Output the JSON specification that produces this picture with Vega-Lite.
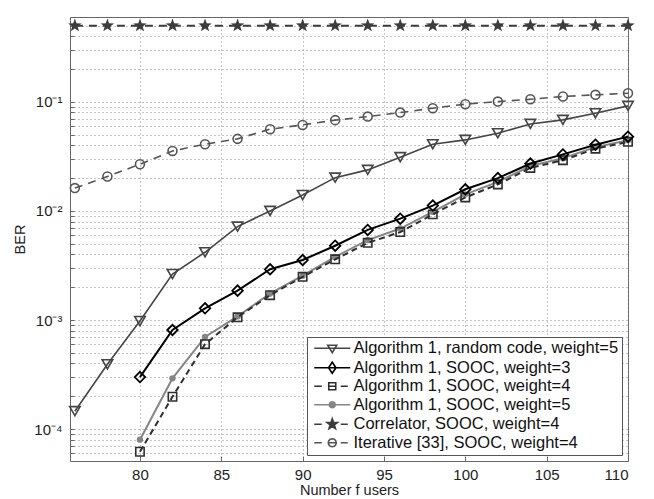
{
  "$schema": "https://vega.github.io/schema/vega-lite/v6.json",
  "width": 558,
  "height": 444,
  "autosize": {"type": "none"},
  "padding": {"left": 70, "top": 17, "right": 26, "bottom": 38},
  "background": "white",
  "config": {"view": {"stroke": "#666", "strokeWidth": 1}, "font": "Liberation Sans"},
  "data": {"values": [
    {"s": "Algorithm 1, random code, weight=5", "n": 76, "ber": 0.000146},
    {"s": "Algorithm 1, random code, weight=5", "n": 78, "ber": 0.000393},
    {"s": "Algorithm 1, random code, weight=5", "n": 80, "ber": 0.00098},
    {"s": "Algorithm 1, random code, weight=5", "n": 82, "ber": 0.00264},
    {"s": "Algorithm 1, random code, weight=5", "n": 84, "ber": 0.00418},
    {"s": "Algorithm 1, random code, weight=5", "n": 86, "ber": 0.00718},
    {"s": "Algorithm 1, random code, weight=5", "n": 88, "ber": 0.0100},
    {"s": "Algorithm 1, random code, weight=5", "n": 90, "ber": 0.0140},
    {"s": "Algorithm 1, random code, weight=5", "n": 92, "ber": 0.0202},
    {"s": "Algorithm 1, random code, weight=5", "n": 94, "ber": 0.0238},
    {"s": "Algorithm 1, random code, weight=5", "n": 96, "ber": 0.0311},
    {"s": "Algorithm 1, random code, weight=5", "n": 98, "ber": 0.0409},
    {"s": "Algorithm 1, random code, weight=5", "n": 100, "ber": 0.0448},
    {"s": "Algorithm 1, random code, weight=5", "n": 102, "ber": 0.0516},
    {"s": "Algorithm 1, random code, weight=5", "n": 104, "ber": 0.0628},
    {"s": "Algorithm 1, random code, weight=5", "n": 106, "ber": 0.0684},
    {"s": "Algorithm 1, random code, weight=5", "n": 108, "ber": 0.0787},
    {"s": "Algorithm 1, random code, weight=5", "n": 110, "ber": 0.0919},
    {"s": "Algorithm 1, SOOC, weight=3", "n": 80, "ber": 0.000300},
    {"s": "Algorithm 1, SOOC, weight=3", "n": 82, "ber": 0.00081},
    {"s": "Algorithm 1, SOOC, weight=3", "n": 84, "ber": 0.00128},
    {"s": "Algorithm 1, SOOC, weight=3", "n": 86, "ber": 0.00186},
    {"s": "Algorithm 1, SOOC, weight=3", "n": 88, "ber": 0.00292},
    {"s": "Algorithm 1, SOOC, weight=3", "n": 90, "ber": 0.00355},
    {"s": "Algorithm 1, SOOC, weight=3", "n": 92, "ber": 0.0048},
    {"s": "Algorithm 1, SOOC, weight=3", "n": 94, "ber": 0.0067},
    {"s": "Algorithm 1, SOOC, weight=3", "n": 96, "ber": 0.0085},
    {"s": "Algorithm 1, SOOC, weight=3", "n": 98, "ber": 0.0112},
    {"s": "Algorithm 1, SOOC, weight=3", "n": 100, "ber": 0.0158},
    {"s": "Algorithm 1, SOOC, weight=3", "n": 102, "ber": 0.0200},
    {"s": "Algorithm 1, SOOC, weight=3", "n": 104, "ber": 0.0272},
    {"s": "Algorithm 1, SOOC, weight=3", "n": 106, "ber": 0.0330},
    {"s": "Algorithm 1, SOOC, weight=3", "n": 108, "ber": 0.0405},
    {"s": "Algorithm 1, SOOC, weight=3", "n": 110, "ber": 0.0480},
    {"s": "Algorithm 1, SOOC, weight=4", "n": 80, "ber": 0.000062},
    {"s": "Algorithm 1, SOOC, weight=4", "n": 82, "ber": 0.000198},
    {"s": "Algorithm 1, SOOC, weight=4", "n": 84, "ber": 0.000600},
    {"s": "Algorithm 1, SOOC, weight=4", "n": 86, "ber": 0.00106},
    {"s": "Algorithm 1, SOOC, weight=4", "n": 88, "ber": 0.00169},
    {"s": "Algorithm 1, SOOC, weight=4", "n": 90, "ber": 0.00249},
    {"s": "Algorithm 1, SOOC, weight=4", "n": 92, "ber": 0.0036},
    {"s": "Algorithm 1, SOOC, weight=4", "n": 94, "ber": 0.0051},
    {"s": "Algorithm 1, SOOC, weight=4", "n": 96, "ber": 0.0064},
    {"s": "Algorithm 1, SOOC, weight=4", "n": 98, "ber": 0.0093},
    {"s": "Algorithm 1, SOOC, weight=4", "n": 100, "ber": 0.0133},
    {"s": "Algorithm 1, SOOC, weight=4", "n": 102, "ber": 0.0175},
    {"s": "Algorithm 1, SOOC, weight=4", "n": 104, "ber": 0.0248},
    {"s": "Algorithm 1, SOOC, weight=4", "n": 106, "ber": 0.0292},
    {"s": "Algorithm 1, SOOC, weight=4", "n": 108, "ber": 0.0372},
    {"s": "Algorithm 1, SOOC, weight=4", "n": 110, "ber": 0.0430},
    {"s": "Algorithm 1, SOOC, weight=5", "n": 80, "ber": 0.000080},
    {"s": "Algorithm 1, SOOC, weight=5", "n": 82, "ber": 0.000292},
    {"s": "Algorithm 1, SOOC, weight=5", "n": 84, "ber": 0.000700},
    {"s": "Algorithm 1, SOOC, weight=5", "n": 86, "ber": 0.00108},
    {"s": "Algorithm 1, SOOC, weight=5", "n": 88, "ber": 0.00175},
    {"s": "Algorithm 1, SOOC, weight=5", "n": 90, "ber": 0.00255},
    {"s": "Algorithm 1, SOOC, weight=5", "n": 92, "ber": 0.0038},
    {"s": "Algorithm 1, SOOC, weight=5", "n": 94, "ber": 0.0054},
    {"s": "Algorithm 1, SOOC, weight=5", "n": 96, "ber": 0.0069},
    {"s": "Algorithm 1, SOOC, weight=5", "n": 98, "ber": 0.0098},
    {"s": "Algorithm 1, SOOC, weight=5", "n": 100, "ber": 0.0142},
    {"s": "Algorithm 1, SOOC, weight=5", "n": 102, "ber": 0.0185},
    {"s": "Algorithm 1, SOOC, weight=5", "n": 104, "ber": 0.0258},
    {"s": "Algorithm 1, SOOC, weight=5", "n": 106, "ber": 0.0305},
    {"s": "Algorithm 1, SOOC, weight=5", "n": 108, "ber": 0.0385},
    {"s": "Algorithm 1, SOOC, weight=5", "n": 110, "ber": 0.0445},
    {"s": "Correlator, SOOC, weight=4", "n": 76, "ber": 0.5},
    {"s": "Correlator, SOOC, weight=4", "n": 78, "ber": 0.5},
    {"s": "Correlator, SOOC, weight=4", "n": 80, "ber": 0.5},
    {"s": "Correlator, SOOC, weight=4", "n": 82, "ber": 0.5},
    {"s": "Correlator, SOOC, weight=4", "n": 84, "ber": 0.5},
    {"s": "Correlator, SOOC, weight=4", "n": 86, "ber": 0.5},
    {"s": "Correlator, SOOC, weight=4", "n": 88, "ber": 0.5},
    {"s": "Correlator, SOOC, weight=4", "n": 90, "ber": 0.5},
    {"s": "Correlator, SOOC, weight=4", "n": 92, "ber": 0.5},
    {"s": "Correlator, SOOC, weight=4", "n": 94, "ber": 0.5},
    {"s": "Correlator, SOOC, weight=4", "n": 96, "ber": 0.5},
    {"s": "Correlator, SOOC, weight=4", "n": 98, "ber": 0.5},
    {"s": "Correlator, SOOC, weight=4", "n": 100, "ber": 0.5},
    {"s": "Correlator, SOOC, weight=4", "n": 102, "ber": 0.5},
    {"s": "Correlator, SOOC, weight=4", "n": 104, "ber": 0.5},
    {"s": "Correlator, SOOC, weight=4", "n": 106, "ber": 0.5},
    {"s": "Correlator, SOOC, weight=4", "n": 108, "ber": 0.5},
    {"s": "Correlator, SOOC, weight=4", "n": 110, "ber": 0.5},
    {"s": "Iterative [33], SOOC, weight=4", "n": 76, "ber": 0.0162},
    {"s": "Iterative [33], SOOC, weight=4", "n": 78, "ber": 0.0207},
    {"s": "Iterative [33], SOOC, weight=4", "n": 80, "ber": 0.0268},
    {"s": "Iterative [33], SOOC, weight=4", "n": 82, "ber": 0.0355},
    {"s": "Iterative [33], SOOC, weight=4", "n": 84, "ber": 0.0409},
    {"s": "Iterative [33], SOOC, weight=4", "n": 86, "ber": 0.0458},
    {"s": "Iterative [33], SOOC, weight=4", "n": 88, "ber": 0.0562},
    {"s": "Iterative [33], SOOC, weight=4", "n": 90, "ber": 0.0615},
    {"s": "Iterative [33], SOOC, weight=4", "n": 92, "ber": 0.0680},
    {"s": "Iterative [33], SOOC, weight=4", "n": 94, "ber": 0.0733},
    {"s": "Iterative [33], SOOC, weight=4", "n": 96, "ber": 0.0798},
    {"s": "Iterative [33], SOOC, weight=4", "n": 98, "ber": 0.0875},
    {"s": "Iterative [33], SOOC, weight=4", "n": 100, "ber": 0.0953},
    {"s": "Iterative [33], SOOC, weight=4", "n": 102, "ber": 0.1006},
    {"s": "Iterative [33], SOOC, weight=4", "n": 104, "ber": 0.1057},
    {"s": "Iterative [33], SOOC, weight=4", "n": 106, "ber": 0.112},
    {"s": "Iterative [33], SOOC, weight=4", "n": 108, "ber": 0.116},
    {"s": "Iterative [33], SOOC, weight=4", "n": 110, "ber": 0.120}
  ]},
  "encoding": {
    "x": {"field": "n", "type": "quantitative", "scale": {"domain": [75.7, 110], "nice": false, "zero": false},
      "axis": {"values": [80, 85, 90, 95, 100, 105, 110], "grid": true, "gridDash": [1, 3], "gridColor": "#8a8a8a", "gridWidth": 1,
        "ticks": true, "tickSize": -5, "tickColor": "#666", "domain": false,
        "labelFontSize": 15, "labelFont": "Liberation Sans", "labelColor": "#222", "labelPadding": 11,
        "title": "Number f users", "titleFontSize": 14.5, "titleFont": "Liberation Sans", "titleFontWeight": "normal", "titleColor": "#222", "titlePadding": 1}},
    "y": {"field": "ber", "type": "quantitative", "scale": {"type": "log", "domain": [0.000051, 0.6], "nice": false},
      "axis": {"values": [0.00006, 0.00007, 0.00008, 0.00009, 0.0001, 0.0002, 0.0003, 0.0004, 0.0005, 0.0006, 0.0007, 0.0008, 0.0009, 0.001, 0.002, 0.003, 0.004, 0.005, 0.006, 0.007, 0.008, 0.009, 0.01, 0.02, 0.03, 0.04, 0.05, 0.06, 0.07, 0.08, 0.09, 0.1, 0.2, 0.3, 0.4, 0.5],
        "labelExpr": "abs(datum.value - 0.0001) < 0.00000001 ? '10⁻⁴' : abs(datum.value - 0.001) < 0.0000001 ? '10⁻³' : abs(datum.value - 0.01) < 0.000001 ? '10⁻²' : abs(datum.value - 0.1) < 0.00001 ? '10⁻¹' : ''",
        "grid": true, "gridDash": [1, 3], "gridColor": "#8a8a8a", "gridWidth": 1, "ticks": true, "tickSize": -4, "tickColor": "#666", "domain": false,
        "labelFontSize": 15, "labelFont": "Liberation Sans", "labelColor": "#222", "labelPadding": 12, "labelOverlap": false,
        "title": "BER", "titleFontSize": 14.5, "titleFont": "Liberation Sans", "titleFontWeight": "normal", "titleColor": "#222", "titlePadding": 6}}
  },
  "layer": [
    {
      "transform": [{"filter": "datum.s === 'Correlator, SOOC, weight=4'"}],
      "mark": {"type": "line", "stroke": "#3c3c3c", "strokeWidth": 2, "strokeDash": [8, 6]}
    },
    {
      "transform": [{"filter": "datum.s === 'Correlator, SOOC, weight=4'"}],
      "mark": {"type": "point", "shape": "M0,-1L0.235,-0.324L0.951,-0.309L0.38,0.124L0.588,0.809L0,0.4L-0.588,0.809L-0.38,0.124L-0.951,-0.309L-0.235,-0.324Z", "filled": true, "color": "#3c3c3c", "size": 200, "opacity": 1}
    },
    {
      "transform": [{"filter": "datum.s === 'Iterative [33], SOOC, weight=4'"}],
      "mark": {"type": "line", "stroke": "#555555", "strokeWidth": 1.6, "strokeDash": [8, 6]}
    },
    {
      "transform": [{"filter": "datum.s === 'Iterative [33], SOOC, weight=4'"}],
      "mark": {"type": "point", "shape": "circle", "filled": false, "color": "#555555", "strokeWidth": 1.6, "size": 80, "opacity": 1}
    },
    {
      "transform": [{"filter": "datum.s === 'Algorithm 1, random code, weight=5'"}],
      "mark": {"type": "line", "stroke": "#454545", "strokeWidth": 1.6}
    },
    {
      "transform": [{"filter": "datum.s === 'Algorithm 1, random code, weight=5'"}],
      "mark": {"type": "point", "shape": "triangle-down", "filled": false, "color": "#454545", "strokeWidth": 1.6, "size": 110, "opacity": 1}
    },
    {
      "transform": [{"filter": "datum.s === 'Algorithm 1, SOOC, weight=5'"}],
      "mark": {"type": "line", "stroke": "#858585", "strokeWidth": 2}
    },
    {
      "transform": [{"filter": "datum.s === 'Algorithm 1, SOOC, weight=5'"}],
      "mark": {"type": "point", "shape": "circle", "filled": true, "color": "#858585", "size": 40, "opacity": 1}
    },
    {
      "transform": [{"filter": "datum.s === 'Algorithm 1, SOOC, weight=4'"}],
      "mark": {"type": "line", "stroke": "#2e2e2e", "strokeWidth": 2, "strokeDash": [6, 4]}
    },
    {
      "transform": [{"filter": "datum.s === 'Algorithm 1, SOOC, weight=4'"}],
      "mark": {"type": "point", "shape": "square", "filled": false, "color": "#2e2e2e", "strokeWidth": 1.6, "size": 70, "opacity": 1}
    },
    {
      "transform": [{"filter": "datum.s === 'Algorithm 1, SOOC, weight=3'"}],
      "mark": {"type": "line", "stroke": "#000000", "strokeWidth": 2}
    },
    {
      "transform": [{"filter": "datum.s === 'Algorithm 1, SOOC, weight=3'"}],
      "mark": {"type": "point", "shape": "diamond", "filled": false, "color": "#000000", "strokeWidth": 1.8, "size": 110, "opacity": 1}
    },
    {
      "mark": {"type": "point", "opacity": 0, "strokeWidth": 1.5},
      "encoding": {
        "stroke": {"field": "s", "type": "nominal",
          "scale": {"domain": ["Algorithm 1, random code, weight=5", "Algorithm 1, SOOC, weight=3", "Algorithm 1, SOOC, weight=4", "Algorithm 1, SOOC, weight=5", "Correlator, SOOC, weight=4", "Iterative [33], SOOC, weight=4"],
            "range": ["#454545", "#000000", "#2e2e2e", "#858585", "#3c3c3c", "#555555"]},
          "legend": {"title": null, "orient": "bottom-right", "offset": 6, "fillColor": "white", "strokeColor": "#555", "padding": 3,
            "labelFontSize": 16.5, "labelFont": "Liberation Sans", "labelColor": "#111", "labelLimit": 0,
            "symbolSize": 100, "symbolStrokeWidth": 1.6, "symbolOffset": 14, "labelOffset": 13, "rowPadding": 1.5, "symbolOpacity": 1}},
        "fill": {"field": "s", "type": "nominal",
          "scale": {"domain": ["Algorithm 1, random code, weight=5", "Algorithm 1, SOOC, weight=3", "Algorithm 1, SOOC, weight=4", "Algorithm 1, SOOC, weight=5", "Correlator, SOOC, weight=4", "Iterative [33], SOOC, weight=4"],
            "range": ["rgba(255,255,255,0)", "rgba(255,255,255,0)", "rgba(255,255,255,0)", "#858585", "#3c3c3c", "rgba(255,255,255,0)"]},
          "legend": {"title": null, "orient": "bottom-right", "offset": 6, "fillColor": "white", "strokeColor": "#555", "padding": 3,
            "labelFontSize": 16.5, "labelFont": "Liberation Sans", "labelColor": "#111", "labelLimit": 0,
            "symbolSize": 100, "symbolStrokeWidth": 1.6, "symbolOffset": 14, "labelOffset": 13, "rowPadding": 1.5, "symbolOpacity": 1}},
        "shape": {"field": "s", "type": "nominal",
          "scale": {"domain": ["Algorithm 1, random code, weight=5", "Algorithm 1, SOOC, weight=3", "Algorithm 1, SOOC, weight=4", "Algorithm 1, SOOC, weight=5", "Correlator, SOOC, weight=4", "Iterative [33], SOOC, weight=4"],
            "range": [
              "M-3.6,0H3.6M-0.9,-0.6L0.9,-0.6L0,0.9Z",
              "M-3.6,0H3.6M0,-1.1L0.75,0L0,1.1L-0.75,0Z",
              "M-3.6,0H-2.1M-0.7,0H0.7M1.7,0H3.1M-0.7,-0.7H0.7V0.7H-0.7Z",
              "M-3.6,0H3.6M0.6,0L0.52,0.3L0.3,0.52L0,0.6L-0.3,0.52L-0.52,0.3L-0.6,0L-0.52,-0.3L-0.3,-0.52L0,-0.6L0.3,-0.52L0.52,-0.3Z",
              "M-3.6,0H-2.1M1.7,0H3.1M0,-1.1L0.26,-0.36L1.05,-0.34L0.43,0.14L0.65,0.89L0,0.45L-0.65,0.89L-0.43,0.14L-1.05,-0.34L-0.26,-0.36Z",
              "M-3.6,0H-2.1M-0.8,0H0.8M1.7,0H3.1M0.8,0L0.69,0.4L0.4,0.69L0,0.8L-0.4,0.69L-0.69,0.4L-0.8,0L-0.69,-0.4L-0.4,-0.69L0,-0.8L0.4,-0.69L0.69,-0.4Z"
            ]},
          "legend": {"title": null, "orient": "bottom-right", "offset": 6, "fillColor": "white", "strokeColor": "#555", "padding": 3,
            "labelFontSize": 16.5, "labelFont": "Liberation Sans", "labelColor": "#111", "labelLimit": 0,
            "symbolSize": 100, "symbolStrokeWidth": 1.6, "symbolOffset": 14, "labelOffset": 13, "rowPadding": 1.5, "symbolOpacity": 1}}
      }
    }
  ]
}
